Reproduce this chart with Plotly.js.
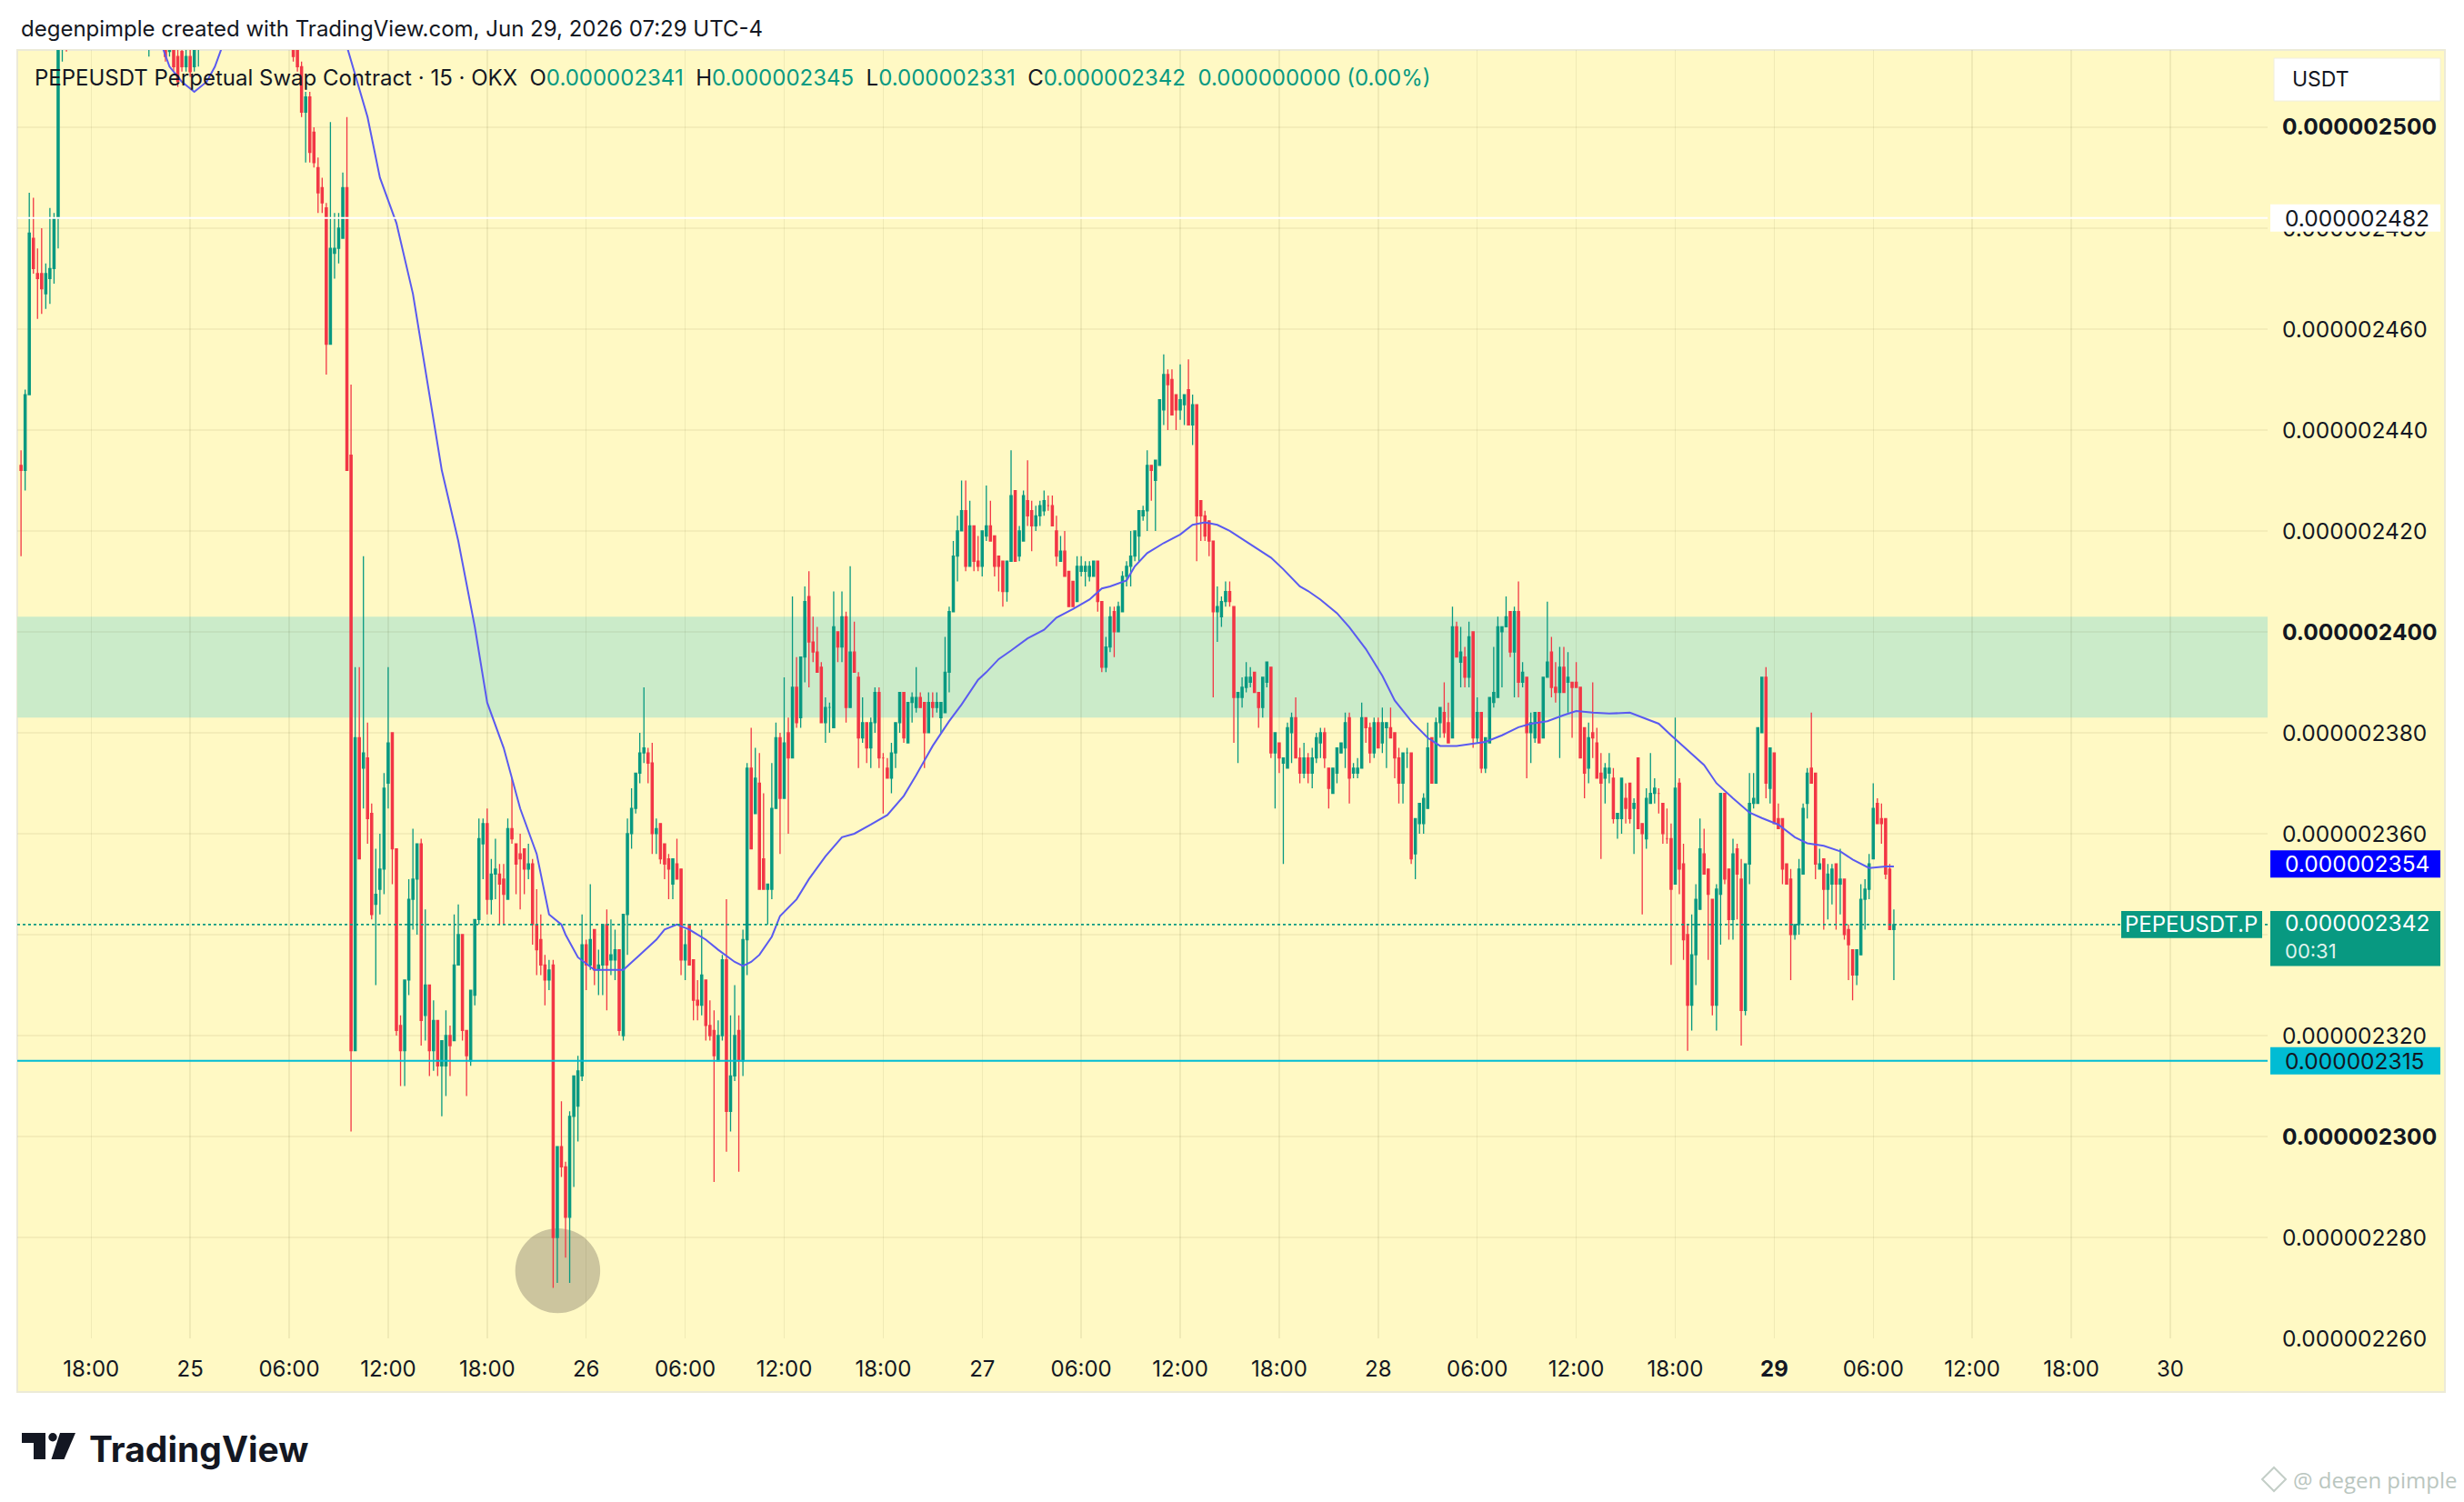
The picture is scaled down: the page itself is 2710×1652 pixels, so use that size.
<!DOCTYPE html>
<html><head><meta charset="utf-8">
<script src="https://cdn.plot.ly/plotly-3.0.1.min.js"></script>
<style>html,body{margin:0;padding:0;background:#ffffff;}#chart{width:2710px;height:1652px;}</style>
</head><body><div id="chart"></div>
<script>
// ---------------- DATA (prices in units of 1e-9 USDT) ----------------
const symbolTitle = 'PEPEUSDT Perpetual Swap Contract \u00b7 15 \u00b7 OKX';
const startTimeUTC = '2026-06-24T13:45:00Z';
const candleMinutes = 15;

const openNano = [
2433,2432,2447,2478,2471,2471,2467,2470,2472,2482,
2519,2524,2522,2526,2531,2535,2529,2533,2540,2544,
2538,2542,2536,2531,2534,2539,2535,2528,2532,2527,
2524,2521,2523,2526,2522,2521,2515,2520,2514,2515,
2512,2514,2512,2516,2521,2525,2530,2534,2538,2542,
2539,2545,2548,2544,2540,2546,2550,2547,2543,2538,
2541,2536,2532,2535,2529,2526,2522,2516,2512,2503,
2506,2499,2492,2488,2484,2457,2475,2476,2478,2488,
2435,2317,2379,2373,2375,2364,2346,2349,2353,2370,
2380,2357,2322,2317,2331,2347,2351,2358,2324,2330,
2317,2323,2314,2314,2320,2319,2334,2340,2321,2315,
2328,2343,2358,2362,2347,2352,2352,2351,2347,2361,
2358,2356,2357,2353,2354,2342,2339,2334,2331,2334,
2280,2298,2294,2284,2304,2306,2312,2338,2334,2341,
2333,2334,2342,2335,2335,2337,2320,2344,2360,2365,
2372,2376,2376,2374,2360,2362,2358,2355,2350,2354,
2353,2335,2342,2335,2327,2326,2331,2322,2321,2315,
2320,2335,2305,2312,2321,2315,2339,2373,2364,2370,
2355,2349,2349,2365,2379,2367,2380,2375,2389,2383,
2395,2407,2398,2396,2393,2382,2385,2381,2400,2397,
2403,2385,2396,2391,2379,2382,2377,2382,2388,2375,
2373,2371,2376,2382,2388,2378,2386,2385,2387,2386,
2380,2386,2385,2383,2384,2392,2404,2415,2420,2424,
2413,2421,2414,2413,2419,2421,2419,2415,2414,2408,
2414,2428,2415,2418,2426,2424,2421,2423,2424,2425,
2425,2420,2414,2416,2412,2410,2406,2412,2412,2411,
2411,2414,2406,2393,2397,2404,2400,2404,2411,2413,
2415,2419,2423,2424,2433,2430,2433,2444,2451,2450,
2447,2444,2445,2448,2441,2445,2426,2423,2422,2418,
2404,2403,2406,2408,2405,2387,2387,2389,2390,2392,
2388,2385,2390,2393,2376,2378,2374,2373,2380,2383,
2375,2372,2375,2372,2375,2378,2380,2373,2368,2372,
2376,2377,2383,2372,2372,2373,2383,2381,2376,2382,
2378,2381,2381,2380,2375,2370,2376,2376,2356,2362,
2362,2365,2379,2370,2382,2384,2382,2379,2401,2394,
2395,2391,2400,2379,2384,2373,2378,2386,2387,2400,
2401,2404,2396,2404,2390,2391,2380,2379,2384,2379,
2391,2396,2389,2388,2393,2390,2390,2390,2389,2381,
2373,2380,2378,2372,2371,2372,2371,2363,2363,2367,
2370,2365,2375,2362,2359,2366,2368,2368,2366,2359,
2359,2350,2370,2354,2340,2326,2336,2345,2356,2353,
2347,2326,2348,2368,2353,2343,2357,2351,2325,2354,
2366,2366,2380,2391,2369,2376,2363,2363,2354,2351,
2340,2342,2352,2366,2373,2372,2353,2355,2349,2350,
2354,2350,2351,2341,2337,2332,2336,2347,2349,2355,
2366,2363,2363,2353,2341];

const highNano = [
2436,2448,2487,2486,2476,2480,2473,2484,2483,2524,
2528,2530,2529,2534,2538,2537,2536,2543,2548,2546,
2545,2543,2538,2537,2542,2540,2536,2535,2533,2529,
2526,2527,2529,2528,2524,2524,2524,2522,2517,2519,
2518,2517,2519,2524,2528,2533,2537,2541,2546,2544,
2548,2552,2550,2546,2549,2554,2552,2549,2545,2544,
2543,2538,2538,2536,2531,2528,2525,2518,2513,2507,
2507,2500,2494,2490,2485,2501,2483,2483,2491,2502,
2449,2393,2393,2415,2382,2366,2357,2360,2372,2393,
2380,2357,2324,2331,2351,2361,2358,2359,2345,2330,
2327,2323,2319,2325,2322,2344,2346,2340,2321,2329,
2343,2363,2363,2365,2355,2359,2354,2354,2363,2371,
2358,2360,2357,2358,2355,2349,2344,2336,2335,2335,
2298,2307,2295,2305,2312,2316,2344,2339,2350,2341,
2337,2342,2345,2343,2341,2337,2344,2363,2369,2372,
2380,2389,2377,2378,2363,2362,2358,2356,2355,2359,
2353,2341,2342,2335,2331,2341,2331,2327,2325,2323,
2336,2347,2324,2330,2324,2341,2374,2381,2377,2376,
2368,2350,2374,2382,2380,2391,2383,2407,2395,2395,
2409,2412,2403,2401,2394,2387,2386,2408,2400,2408,
2404,2413,2402,2392,2387,2382,2383,2389,2389,2376,
2375,2378,2382,2388,2388,2386,2388,2393,2388,2386,
2388,2388,2388,2386,2399,2405,2418,2423,2430,2430,
2426,2421,2419,2420,2429,2426,2419,2415,2414,2414,
2436,2428,2421,2428,2434,2426,2425,2426,2428,2427,
2427,2423,2419,2420,2412,2410,2415,2415,2414,2414,
2414,2414,2406,2399,2405,2405,2406,2412,2414,2420,
2420,2424,2425,2436,2433,2434,2446,2455,2452,2452,
2447,2453,2447,2454,2447,2445,2426,2424,2422,2418,
2409,2407,2410,2410,2405,2388,2391,2394,2393,2392,
2388,2391,2394,2393,2380,2378,2375,2382,2384,2387,
2377,2378,2376,2377,2380,2381,2381,2373,2373,2377,
2378,2384,2384,2374,2375,2386,2383,2382,2383,2383,
2385,2382,2385,2380,2377,2376,2377,2376,2363,2366,
2368,2382,2379,2383,2385,2390,2386,2405,2402,2401,
2397,2402,2400,2387,2384,2379,2387,2397,2403,2401,
2407,2404,2405,2410,2394,2391,2384,2384,2384,2391,
2406,2399,2394,2397,2397,2396,2390,2394,2389,2381,
2382,2390,2381,2376,2374,2376,2373,2364,2371,2370,
2370,2367,2375,2362,2369,2376,2371,2369,2366,2365,
2362,2383,2371,2358,2342,2344,2350,2363,2361,2353,
2347,2350,2368,2368,2353,2359,2358,2355,2354,2372,
2372,2381,2391,2393,2377,2376,2366,2363,2354,2353,
2342,2355,2366,2373,2384,2372,2357,2355,2354,2354,
2354,2357,2351,2342,2337,2337,2350,2351,2356,2370,
2367,2366,2363,2354,2345];

const lowNano = [
2415,2428,2447,2471,2462,2463,2464,2465,2469,2476,
2513,2515,2519,2523,2528,2526,2527,2531,2537,2535,
2536,2533,2528,2529,2532,2532,2525,2526,2524,2521,
2519,2514,2520,2519,2517,2513,2514,2511,2508,2511,
2511,2510,2511,2512,2518,2522,2527,2531,2535,2535,
2537,2542,2541,2537,2538,2543,2544,2540,2535,2536,
2533,2529,2530,2526,2523,2519,2513,2511,2502,2493,
2493,2492,2483,2483,2451,2457,2470,2473,2478,2432,
2301,2317,2355,2365,2358,2343,2330,2344,2348,2365,
2350,2320,2310,2310,2328,2341,2340,2318,2319,2312,
2313,2312,2304,2308,2312,2319,2334,2319,2308,2314,
2326,2342,2351,2344,2344,2347,2342,2342,2347,2358,
2348,2345,2348,2351,2338,2332,2332,2326,2329,2270,
2271,2292,2276,2271,2290,2299,2311,2329,2333,2330,
2328,2328,2325,2332,2331,2320,2319,2336,2357,2364,
2370,2374,2370,2356,2356,2354,2351,2347,2347,2351,
2332,2331,2334,2323,2323,2324,2319,2319,2291,2315,
2319,2297,2301,2311,2293,2312,2332,2357,2364,2349,
2349,2342,2347,2365,2356,2367,2360,2375,2381,2381,
2390,2389,2394,2392,2382,2378,2380,2381,2394,2394,
2382,2385,2392,2373,2378,2374,2373,2380,2373,2364,
2371,2368,2373,2380,2378,2378,2382,2384,2385,2373,
2380,2383,2384,2380,2384,2388,2404,2410,2420,2412,
2413,2412,2412,2411,2418,2418,2411,2408,2405,2406,
2414,2414,2414,2418,2421,2416,2420,2421,2423,2424,
2421,2413,2414,2411,2405,2405,2406,2411,2409,2410,
2411,2404,2392,2392,2396,2395,2400,2404,2409,2409,
2414,2414,2422,2420,2426,2420,2433,2441,2440,2443,
2440,2442,2441,2441,2437,2414,2418,2418,2415,2387,
2398,2401,2405,2405,2378,2374,2385,2388,2389,2388,
2381,2383,2389,2375,2365,2372,2354,2373,2374,2375,
2370,2371,2370,2369,2374,2375,2373,2365,2368,2370,
2376,2373,2366,2371,2371,2373,2378,2374,2375,2377,
2376,2373,2379,2371,2366,2366,2373,2354,2351,2360,
2360,2365,2370,2370,2379,2379,2378,2379,2395,2389,
2389,2389,2377,2378,2372,2372,2378,2385,2387,2389,
2401,2395,2387,2387,2389,2371,2374,2378,2378,2379,
2391,2387,2386,2375,2388,2384,2379,2389,2375,2367,
2370,2375,2371,2355,2366,2370,2362,2359,2360,2362,
2362,2356,2361,2344,2357,2366,2366,2364,2358,2358,
2334,2350,2348,2335,2317,2321,2330,2345,2352,2335,
2324,2321,2338,2350,2339,2339,2343,2318,2324,2350,
2365,2366,2380,2367,2366,2362,2361,2350,2350,2331,
2339,2340,2352,2363,2370,2351,2353,2341,2343,2346,
2341,2344,2339,2331,2327,2330,2336,2341,2347,2355,
2362,2358,2351,2341,2331];

const closeNano = [
2432,2447,2479,2472,2470,2468,2471,2472,2482,2519,
2524,2522,2526,2531,2535,2529,2533,2540,2544,2538,
2542,2536,2531,2534,2539,2535,2528,2532,2527,2524,
2521,2523,2526,2522,2520,2514,2520,2512,2509,2512,
2514,2511,2516,2521,2525,2530,2534,2538,2542,2539,
2545,2548,2544,2540,2546,2550,2547,2543,2538,2541,
2536,2532,2535,2529,2526,2522,2514,2512,2503,2506,
2495,2493,2487,2485,2457,2476,2476,2480,2488,2432,
2317,2379,2355,2376,2363,2344,2348,2353,2369,2378,
2357,2321,2317,2331,2347,2351,2358,2323,2330,2317,
2323,2314,2319,2320,2318,2334,2340,2321,2316,2329,
2343,2359,2362,2347,2352,2353,2350,2348,2361,2359,
2354,2355,2353,2354,2342,2337,2334,2331,2333,2280,
2298,2294,2284,2304,2312,2313,2338,2334,2339,2333,
2334,2342,2334,2336,2337,2321,2344,2360,2365,2372,
2376,2377,2374,2360,2361,2355,2354,2353,2355,2351,
2335,2338,2334,2327,2326,2332,2322,2320,2316,2320,
2335,2305,2312,2320,2315,2339,2373,2357,2371,2349,
2349,2350,2365,2379,2367,2378,2375,2389,2382,2395,
2406,2398,2396,2392,2382,2385,2385,2401,2397,2403,
2385,2396,2392,2379,2382,2377,2382,2388,2375,2375,
2371,2376,2382,2388,2379,2386,2387,2387,2385,2380,
2386,2385,2386,2386,2392,2404,2415,2420,2424,2413,
2421,2414,2413,2420,2421,2418,2413,2413,2408,2414,
2427,2414,2420,2427,2423,2421,2423,2425,2426,2425,
2421,2415,2416,2411,2405,2405,2413,2413,2413,2413,
2414,2406,2393,2397,2403,2400,2405,2411,2413,2415,
2420,2424,2424,2433,2432,2434,2446,2451,2449,2443,
2444,2446,2447,2441,2445,2423,2423,2419,2418,2404,
2405,2406,2408,2406,2387,2388,2389,2391,2391,2388,
2385,2391,2394,2376,2380,2375,2375,2381,2383,2375,
2372,2375,2372,2375,2379,2380,2375,2369,2373,2377,
2378,2382,2371,2373,2373,2383,2381,2376,2382,2377,
2382,2382,2379,2375,2370,2376,2376,2355,2363,2366,
2367,2377,2370,2382,2385,2380,2378,2401,2395,2396,
2391,2399,2379,2384,2373,2379,2387,2388,2401,2401,
2403,2396,2404,2390,2392,2380,2382,2384,2378,2391,
2394,2389,2388,2393,2388,2391,2389,2389,2375,2372,
2379,2379,2371,2370,2373,2373,2363,2364,2371,2365,
2363,2366,2361,2360,2367,2368,2369,2368,2360,2359,
2349,2369,2353,2339,2326,2336,2347,2357,2352,2348,
2326,2349,2368,2351,2343,2356,2352,2325,2354,2366,
2367,2381,2391,2370,2377,2362,2361,2353,2350,2340,
2342,2353,2365,2372,2370,2354,2354,2349,2352,2353,
2350,2351,2340,2338,2332,2337,2347,2349,2354,2365,
2362,2362,2352,2341,2342];

// moving-average line (candle index, value); null = off-chart gap
const maIndex = [32,34,36,39,42,45,47,49,51,60,
78,79,84,87,91,95,99,102,106,110,113,117,121,125,128,131,132,135,139,143,
146,150,154,156,159,162,166,169,173,175,177,179,182,184,188,191,195,199,202,206,
210,214,217,221,225,228,232,234,237,240,244,248,251,255,259,262,264,268,270,273,
277,281,284,287,290,293,296,299,303,306,310,312,315,319,322,326,330,333,337,341,
344,348,352,355,359,363,366,370,374,377,381,385,390,393,397,400,404,408,411,415,
419,422,426,430,433,437,441,444,448,452,454];
const maNano = [2521,2516.5,2512,2509,2507,2509,2512,2516.5,2521,null,
2521,2516,2502,2490,2481,2467,2447,2432,2418,2401,2386,2377,2365,2356,2344,2342,2340,2335.5,2333,2333,
2333,2336,2339,2341,2342,2341,2339,2337,2334.6,2333.8,2334.6,2336,2339.6,2343.7,2347,2351,2355.5,2359.3,2360,2361.8,
2363.7,2367.5,2371.6,2377.4,2382.3,2385.6,2390.5,2392,2394.6,2396.3,2398.7,2400.4,2402.8,2404.5,2406.4,2408.6,2409,2410.2,2413,2415.6,
2417.6,2419.3,2421.2,2421.7,2421.2,2420,2418.4,2416.8,2414.7,2412.4,2409,2408.1,2406.4,2403.7,2400.9,2396.6,2391.3,2386.4,2382.3,2379,
2377.4,2377.4,2377.9,2378.2,2379.5,2381.1,2381.8,2382.3,2383.5,2384.3,2384,2383.8,2384,2383.1,2381.8,2379.5,2376.5,2373.6,2370,2367,
2364.2,2363.1,2361.8,2359.3,2358.1,2357.6,2356.5,2354.9,2353.2,2353.5,2353.5];

const priceTicksNano = [2260,2280,2300,2320,2340,2360,2380,2400,2420,2440,2460,2480,2500];
// 2340 sits fully behind the last-price box in the reference, so its label is left empty
const priceTickLabels = ['0.000002260','0.000002280','<b>0.000002300</b>','0.000002320','','0.000002360',
  '0.000002380','<b>0.000002400</b>','0.000002420','0.000002440','0.000002460','0.000002480','<b>0.000002500</b>'];

const timeTicks = ['2026-06-24 18:00','2026-06-25 00:00','2026-06-25 06:00','2026-06-25 12:00','2026-06-25 18:00',
  '2026-06-26 00:00','2026-06-26 06:00','2026-06-26 12:00','2026-06-26 18:00','2026-06-27 00:00','2026-06-27 06:00',
  '2026-06-27 12:00','2026-06-27 18:00','2026-06-28 00:00','2026-06-28 06:00','2026-06-28 12:00','2026-06-28 18:00',
  '2026-06-29 00:00','2026-06-29 06:00','2026-06-29 12:00','2026-06-29 18:00','2026-06-30 00:00'];
const timeTickLabels = ['18:00','25','06:00','12:00','18:00','26','06:00','12:00','18:00','27','06:00','12:00','18:00',
  '28','06:00','12:00','18:00','<b>29</b>','06:00','12:00','18:00','30'];

const zoneNano = [2383, 2403];      // green zone
const whiteLevelNano = 2482;        // white horizontal line
const cyanLevelNano = 2315;         // cyan horizontal line
const maLastNano = 2354;            // MA price label
const countdownText = '00:31';
const headerChange = '0.000000000 (0.00%)';
const circleCenter = {index: 130.1, nano: 2273.4};

// ---------------- helpers ----------------
const n2p = v => v === null ? null : v * 1e-9;
const fmt = v => (v * 1e-9).toFixed(9);
const t0 = Date.parse(startTimeUTC);
function timeAt(k){ return new Date(t0 + k * candleMinutes * 60000).toISOString().slice(0,19).replace('T',' '); }
const times = openNano.map((_, i) => timeAt(i));

const W = 2710, H = 1652, PL = 19, PR = 2494, PT = 55, PB = 1472;
const px2x = p => (p - PL) / (PR - PL);
const py2y = p => (PB - p) / (PB - PT);

const GREEN = '#089981', RED = '#F23645', INK = '#131722', PANEL = '#FFF9C4';
const FONT = 'Inter, "Noto Sans", sans-serif';
const last = closeNano.length - 1;

// ---------------- traces ----------------
const candles = {
  type: 'candlestick', x: times,
  open: openNano.map(n2p), high: highNano.map(n2p), low: lowNano.map(n2p), close: closeNano.map(n2p),
  increasing: {line: {color: GREEN, width: 1.3}, fillcolor: GREEN},
  decreasing: {line: {color: RED, width: 1.3}, fillcolor: RED},
  whiskerwidth: 0, hoverinfo: 'skip', showlegend: false
};
const ma = {
  type: 'scatter', mode: 'lines', x: maIndex.map(k => timeAt(k)), y: maNano.map(n2p),
  line: {color: '#5A5AF0', width: 2}, connectgaps: false, hoverinfo: 'skip', showlegend: false
};

// ---------------- shapes ----------------
const boxX0 = px2x(2497), boxX1 = px2x(2684);
const hh = 2.7;
const shapes = [
  {type:'rect', xref:'paper', yref:'paper', x0:px2x(19), x1:px2x(2689), y0:py2y(1531), y1:py2y(55),
   fillcolor:PANEL, line:{color:'#ECEAD8', width:2}, layer:'below'},
  {type:'rect', xref:'paper', yref:'y', x0:0, x1:1, y0:n2p(zoneNano[0]), y1:n2p(zoneNano[1]),
   fillcolor:'#CBEBC9', line:{width:0}, layer:'below'},
  {type:'circle', xref:'x', yref:'y', x0:timeAt(circleCenter.index - 10.3), x1:timeAt(circleCenter.index + 10.3),
   y0:n2p(circleCenter.nano - 8.4), y1:n2p(circleCenter.nano + 8.4), fillcolor:'#CCC59E', line:{width:0}, layer:'below'},
  {type:'line', xref:'paper', yref:'y', x0:0, x1:1, y0:n2p(whiteLevelNano), y1:n2p(whiteLevelNano),
   line:{color:'#FFFFFF', width:2}, layer:'above'},
  {type:'line', xref:'paper', yref:'y', x0:0, x1:1, y0:n2p(closeNano[last]), y1:n2p(closeNano[last]),
   line:{color:GREEN, width:1.6, dash:'dot'}, layer:'above'},
  {type:'line', xref:'paper', yref:'y', x0:0, x1:1, y0:n2p(cyanLevelNano), y1:n2p(cyanLevelNano),
   line:{color:'#00BCD4', width:2}, layer:'above'},
  {type:'rect', xref:'paper', yref:'y', x0:boxX0, x1:boxX1, y0:n2p(whiteLevelNano-hh), y1:n2p(whiteLevelNano+hh),
   fillcolor:'#FFFFFF', line:{width:0}, layer:'above'},
  {type:'rect', xref:'paper', yref:'y', x0:boxX0, x1:boxX1, y0:n2p(maLastNano-hh), y1:n2p(maLastNano+hh),
   fillcolor:'#0000FF', line:{width:0}, layer:'above'},
  {type:'rect', xref:'paper', yref:'y', x0:boxX0, x1:boxX1, y0:n2p(closeNano[last]-8.2), y1:n2p(closeNano[last]+hh),
   fillcolor:GREEN, line:{width:0}, layer:'above'},
  {type:'rect', xref:'paper', yref:'y', x0:px2x(2333), x1:px2x(2488), y0:n2p(closeNano[last]-hh), y1:n2p(closeNano[last]+hh),
   fillcolor:GREEN, line:{width:0}, layer:'above'},
  {type:'rect', xref:'paper', yref:'y', x0:boxX0, x1:boxX1, y0:n2p(cyanLevelNano-hh), y1:n2p(cyanLevelNano+hh),
   fillcolor:'#00BCD4', line:{width:0}, layer:'above'},
  {type:'rect', xref:'paper', yref:'paper', x0:px2x(2501), x1:px2x(2684), y0:py2y(111), y1:py2y(64),
   fillcolor:'#FFFFFF', line:{color:'#F0EEE0', width:1}, layer:'above'},
  // TradingView logo
  {type:'rect', xref:'paper', yref:'paper', x0:px2x(24), x1:px2x(50), y0:py2y(1587), y1:py2y(1576), fillcolor:INK, line:{width:0}},
  {type:'rect', xref:'paper', yref:'paper', x0:px2x(37), x1:px2x(50), y0:py2y(1605), y1:py2y(1576), fillcolor:INK, line:{width:0}},
  {type:'circle', xref:'paper', yref:'paper', x0:px2x(53.3), x1:px2x(62.7), y0:py2y(1585.5), y1:py2y(1576), fillcolor:INK, line:{width:0}},
  {type:'path', xref:'paper', yref:'paper', fillcolor:INK, line:{width:0},
   path:`M ${px2x(66)} ${py2y(1576)} L ${px2x(83)} ${py2y(1576)} L ${px2x(70.5)} ${py2y(1605)} L ${px2x(56.5)} ${py2y(1605)} Z`},
  // watermark icon
  {type:'path', xref:'paper', yref:'paper', fillcolor:'rgba(0,0,0,0)', line:{color:'#C3CEC7', width:2},
   path:`M ${px2x(2501)} ${py2y(1614)} L ${px2x(2514)} ${py2y(1627)} L ${px2x(2501)} ${py2y(1640)} L ${px2x(2488)} ${py2y(1627)} Z`}
];

// ---------------- annotations ----------------
const g = s => `<span style="color:${GREEN}">${s}</span>`;
const sp = '\u00a0\u00a0';
const headerText = `${symbolTitle}${sp}O${g(fmt(openNano[last]))}${sp}H${g(fmt(highNano[last]))}${sp}L${g(fmt(lowNano[last]))}${sp}C${g(fmt(closeNano[last]))}${sp}${g(headerChange)}`;
const lab = (text, yv, color, size) => ({xref:'paper', yref:'y', x:px2x(2511), y:n2p(yv), xanchor:'left', yanchor:'middle',
  text:text, showarrow:false, font:{family:FONT, size:size || 24.5, color:color}});
const annotations = [
  {xref:'paper', yref:'paper', x:px2x(21), y:py2y(31), xanchor:'left', yanchor:'middle', showarrow:false,
   text:'degenpimple created with TradingView.com, Jun 29, 2026 07:29 UTC-4', font:{family:FONT, size:24, color:INK}},
  {xref:'paper', yref:'paper', x:px2x(36), y:py2y(85), xanchor:'left', yanchor:'middle', showarrow:false,
   text:headerText, font:{family:FONT, size:24, color:INK}},
  {xref:'paper', yref:'paper', x:px2x(2519), y:py2y(87), xanchor:'left', yanchor:'middle', showarrow:false,
   text:'USDT', font:{family:FONT, size:23, color:INK}},
  lab(fmt(whiteLevelNano), whiteLevelNano, INK),
  lab(fmt(maLastNano), maLastNano, '#FFFFFF'),
  lab(fmt(closeNano[last]), closeNano[last] + 0.3, '#FFFFFF'),
  lab(countdownText, closeNano[last] - 5.3, '#DDF2EC', 22),
  lab(fmt(cyanLevelNano), cyanLevelNano, INK),
  {xref:'paper', yref:'y', x:px2x(2410), y:n2p(closeNano[last]), xanchor:'center', yanchor:'middle', showarrow:false,
   text:'PEPEUSDT.P', font:{family:FONT, size:24, color:'#FFFFFF'}},
  {xref:'paper', yref:'paper', x:px2x(96), y:py2y(1593), xanchor:'left', yanchor:'middle', showarrow:false,
   text:'<b>TradingView</b>', font:{family:FONT, size:39, color:INK}},
  {xref:'paper', yref:'paper', x:px2x(2520), y:py2y(1627), xanchor:'left', yanchor:'middle', showarrow:false,
   text:'@ degen pimple', font:{family:'"Open Sans", sans-serif', size:24, color:'#BAC6BF'}}
];

const layout = {
  width: W, height: H,
  margin: {l: PL, r: W - PR, t: PT, b: H - PB, pad: 0},
  paper_bgcolor: '#FFFFFF', plot_bgcolor: PANEL,
  showlegend: false, dragmode: false, hovermode: false,
  boxgap: 0.3,
  xaxis: {type: 'date', range: [timeAt(-0.91), timeAt(544.6)], rangeslider: {visible: false},
    tickvals: timeTicks, ticktext: timeTickLabels, tickfont: {family: FONT, size: 24, color: INK},
    ticks: '', ticklabelstandoff: 17, showgrid: true, gridcolor: 'rgba(60,50,0,0.075)', gridwidth: 1.5,
    zeroline: false, showline: false, fixedrange: true},
  yaxis: {side: 'right', range: [n2p(2260), n2p(2515.3)], tickvals: priceTicksNano.map(n2p), ticktext: priceTickLabels,
    tickfont: {family: FONT, size: 24.5, color: INK}, ticks: '', ticklabelstandoff: 15,
    showgrid: true, gridcolor: 'rgba(60,50,0,0.06)', gridwidth: 1.5, zeroline: false, showline: false, fixedrange: true},
  shapes: shapes, annotations: annotations
};

Plotly.newPlot('chart', [candles, ma], layout, {displayModeBar: false, staticPlot: true});
</script></body></html>
